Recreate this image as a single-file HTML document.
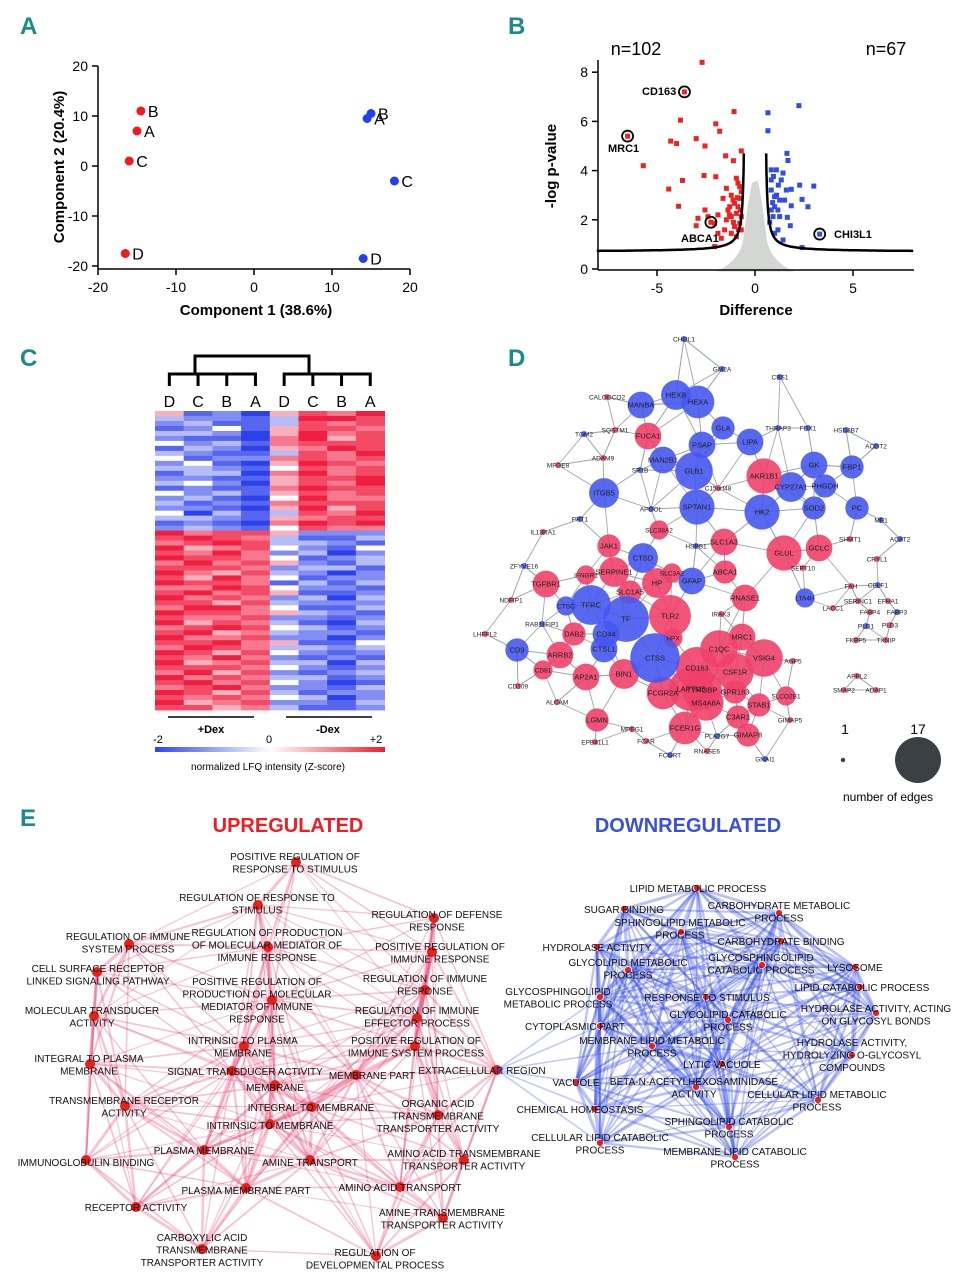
<!DOCTYPE html>
<html><head><meta charset="utf-8">
<style>
html,body{margin:0;padding:0;background:#fff;}
svg{display:block;font-family:"Liberation Sans",sans-serif;}
</style></head>
<body>
<svg id="fig" width="969" height="1280" viewBox="0 0 969 1280" xmlns="http://www.w3.org/2000/svg">
<g fill="#1a8a8a" font-weight="bold" font-size="24" font-family="Liberation Sans Narrow, Liberation Sans, sans-serif">
<text x="20" y="34">A</text>
<text x="508" y="34">B</text>
<text x="20" y="366">C</text>
<text x="508" y="366">D</text>
<text x="20" y="826">E</text>
</g>
<g id="pA"></g>
<g id="pB"></g>
<g id="pC"></g>
<g id="pD"></g>
<g id="pE"></g>
</svg>
<script>
const NS="http://www.w3.org/2000/svg";
function mk(p,t,a,txt){const e=document.createElementNS(NS,t);for(const k in a)e.setAttribute(k,a[k]);if(txt!==undefined)e.textContent=txt;p.appendChild(e);return e;}

// ---------- Panel A data ----------
const pcaLabels=["B","A","C","D","B","A","C","D"];
const pcaX=[-14.5,-15,-16,-16.5,15,14.5,18,14];
const pcaY=[11,7,1,-17.5,10.5,9.5,-3,-18.5];
const pcaGroup=["dex","dex","dex","dex","ctrl","ctrl","ctrl","ctrl"];
const pcaTicks=[-20,-10,0,10,20];

// ---------- Panel B data ----------
const upX=[-2.7,-3.6,-1.07,-3.8,-2.0,-1.8,-6.5,-3.0,-4.3,-4.0,-2.55,-0.7,-1.5,-5.7,-1.1,-2.6,-2.0,-3.7,-4.4,-0.95,-0.87,-1.46,-0.70,-1.21,-0.78,-1.63,-1.04,-3.9,-2.55,-1.38,-0.87,-1.21,-0.70,-1.89,-2.91,-2.06,-3.0,-1.04,-2.25,-1.55,-0.95,-1.72,-2.06,-0.78,-1.12,-1.29,-0.95,-1.46,-0.78,-1.21,-0.70,-1.89,-2.4,-0.9,-1.3,-0.75,-1.1,-0.85];
const upY=[8.4,7.2,6.4,6.05,5.9,5.6,5.4,5.3,5.2,5.1,5.0,4.8,4.6,4.2,4.4,3.8,3.75,3.6,3.25,3.69,3.49,3.28,3.14,3.0,2.87,2.87,2.67,2.55,2.4,2.4,2.53,2.13,2.13,2.2,2.06,1.86,1.76,1.72,1.9,1.59,1.31,1.25,0.91,3.35,2.8,2.53,2.26,2.0,1.86,1.45,1.59,1.45,2.13,2.9,2.2,2.4,1.9,1.6];
const downX=[2.24,0.66,0.66,1.63,1.68,0.83,1.09,1.43,0.94,1.19,2.28,3.0,1.6,1.85,0.83,1.0,2.4,1.26,1.85,2.7,0.83,1.17,0.92,1.65,1.8,1.17,3.3,1.0,1.43,2.4,0.83,1.34,1.0,1.26,1.51,0.9,1.1,0.75];
const downY=[6.64,6.35,5.62,4.7,4.41,4.03,4.03,3.9,3.76,3.41,3.41,3.37,3.21,3.24,3.21,2.94,2.83,2.8,2.57,2.53,2.4,2.4,2.13,2.1,1.76,1.59,1.42,1.45,1.18,0.87,3.62,3.62,2.53,2.13,2.8,2.7,3.0,1.9];
const labeledGenes=["CD163","MRC1","ABCA1","CHI3L1"];
const labeledX=[-3.6,-6.5,-2.25,3.3];
const labeledY=[7.2,5.4,1.9,1.42];
const bXTicks=[-5,0,5];
const bYTicks=[0,2,4,6,8];

// ---------- Panel C data (digit 0..8 => z = d/2-2) ----------
const hmCols=["D","C","B","A","D","C","B","A"];
const hmRows=[
"51205768","32213887","23113767","12415776","33205867","21106857","42316777","13205687","32113768","41226767","24105876","33214767",
"13306867","22115778","34205768","12116877","42315767","23104866","31216777","22105857","40313768","33215677","12106878","23214766",
"86775222","78763113","67873321","85674214","76862302","87764123","68675213","77762331","86573202","75864122","87761313","66874221",
"78675112","86762303","77573222","68864113","87765321","76672212","85763103","67874312","78563221","86672202","77865114","68763323",
"87574212","76862121","85673303","77764212","68572123","86763312","78674201","67862213","87573122","76764302","85672213","77563112"];

// ---------- Panel D data ----------
const geneNames=["CHI3L1","GM2A","CBS1","HEXB","HEXA","MANBA","GLA","LIPA","PSAP","THRAP3","FDX1","HSD3B7","ACOT2","TGM2","MAN2B1","GLB1","GK","FBP1","CYP27A1","PHGDH","ITGB5","SPTAN1","HK2","SOD2","PC","SP1B","APOOL","ME1","ACAT2","PRT1","HSPB1","CTSD","GFAP","ZFYVE16","CTSC","TFRC","TF","CD44","CTSL1","CD9","CTSS","LTA4H","RAB11FIP1","PLA2G7","CELF1","PLD1","FABP3",
"FUCA1","SQSTM1","ADAM9","MFGE8","CALOOCO2","AKR1B1","C15orf48","SLC38A2","IL13RA1","JAK1","SLC1A3","GLUL","GCLC","SHMT1","CRYL1","IFNGR1","SERPINE1","SLC3A2","HP","ABCA1","SEPT10","TGFBR1","SLC1A5","RNASE1","NDFIP1","FAH","SERINC1","EFHA1","LACC1","FABP4","IRAK3","TLR2","DAB2","LHFPL2","PLD3","HPX","MRC1","C1QC","ARRB2","VSIG4","CSF1R","CD81","BIN1","AP2A1","CD163","FCGR2A","LAPTM5","TYROBP","MS4A6A","GPR183","FKBP5","TXNIP","CD109","AGP5","SLCO2B1","STAB1","APPL2","SMAP2","ADAP1","ALCAM","C3AR1","FCER1G","GIMAP5","LGMN","MPEG1","GIMAP8","EPB41L1","FCAR","RNASE6","FCGRT","GNAI1"];
const geneEdges=[1,1,1,5,6,4,3,4,4,1,1,1,1,1,4,8,4,3,5,3,5,7,7,3,3,1,1,1,1,1,1,5,4,1,2,9,12,4,4,3,14,2,1,1,1,1,1,
4,1,1,1,1,7,1,2,1,3,4,7,4,1,1,2,5,2,5,3,1,4,3,4,1,1,1,1,1,1,1,10,3,1,1,2,4,8,4,8,8,2,5,4,10,6,11,9,7,3,1,1,1,1,2,3,1,1,1,1,3,6,1,3,1,3,1,1,1,1,1];
const geneUp=[0,0,0,0,0,0,0,0,0,0,0,0,0,0,0,0,0,0,0,0,0,0,0,0,0,0,0,0,0,0,0,0,0,0,0,0,0,0,0,0,0,0,0,0,0,0,0,
1,1,1,1,1,1,1,1,1,1,1,1,1,1,1,1,1,1,1,1,1,1,1,1,1,1,1,1,1,1,1,1,1,1,1,1,1,1,1,1,1,1,1,1,1,1,1,1,1,1,1,1,1,1,1,1,1,1,1,1,1,1,1,1,1,1,1,1,1];
const gx=[684,722,780,676,698,641,723,750,702,778,808,846,876,584,663,694,814,852,791,825,604,697,762,814,857,640,651,881,900,580,696,643,692,524,566,591,626,606,604,517,655,805,542,717,878,866,897,
648,615,603,558,607,764,718,659,543,609,724,784,819,850,877,586,614,672,657,725,803,546,630,745,511,851,858,888,833,870,721,670,574,485,890,673,742,719,560,764,735,543,624,586,697,663,691,702,706,735,856,886,518,793,786,759,857,844,876,557,738,685,790,597,632,748,595,646,707,670,765];
const gy=[339,369,377,395,402,405,428,442,445,428,428,430,446,434,460,471,465,467,487,486,493,507,512,508,508,470,509,520,539,519,546,558,581,566,606,605,619,634,649,650,658,598,624,736,585,626,612,
436,430,458,465,397,476,488,530,532,546,542,553,548,539,559,575,572,573,583,572,568,584,592,598,600,586,601,601,608,612,614,616,634,634,625,638,637,649,655,658,672,670,674,677,668,693,689,690,703,692,640,640,686,661,696,705,676,690,690,702,717,728,720,720,729,735,742,741,751,755,759];

// ---------- Panel E data ----------
const upTerms=["POSITIVE REGULATION OF|RESPONSE TO STIMULUS","REGULATION OF RESPONSE TO|STIMULUS","REGULATION OF DEFENSE|RESPONSE","REGULATION OF IMMUNE|SYSTEM PROCESS","REGULATION OF PRODUCTION|OF MOLECULAR MEDIATOR OF|IMMUNE RESPONSE","POSITIVE REGULATION OF|IMMUNE RESPONSE","CELL SURFACE RECEPTOR|LINKED SIGNALING PATHWAY","POSITIVE REGULATION OF|PRODUCTION OF MOLECULAR|MEDIATOR OF IMMUNE|RESPONSE","REGULATION OF IMMUNE|RESPONSE","MOLECULAR TRANSDUCER|ACTIVITY","REGULATION OF IMMUNE|EFFECTOR PROCESS","INTRINSIC TO PLASMA|MEMBRANE","POSITIVE REGULATION OF|IMMUNE SYSTEM PROCESS","INTEGRAL TO PLASMA|MEMBRANE","SIGNAL TRANSDUCER ACTIVITY","MEMBRANE PART","MEMBRANE","TRANSMEMBRANE RECEPTOR|ACTIVITY","INTEGRAL TO MEMBRANE","ORGANIC ACID|TRANSMEMBRANE|TRANSPORTER ACTIVITY","INTRINSIC TO MEMBRANE","IMMUNOGLOBULIN BINDING","PLASMA MEMBRANE","AMINE TRANSPORT","AMINO ACID TRANSMEMBRANE|TRANSPORTER ACTIVITY","PLASMA MEMBRANE PART","AMINO ACID TRANSPORT","RECEPTOR ACTIVITY","AMINE TRANSMEMBRANE|TRANSPORTER ACTIVITY","CARBOXYLIC ACID|TRANSMEMBRANE|TRANSPORTER ACTIVITY","REGULATION OF|DEVELOPMENTAL PROCESS","EXTRACELLULAR REGION"];
const upNX=[296,258,434,129,268,432,97,272,425,94,417,244,415,90,232,356,275,125,312,438,270,86,204,310,464,246,400,136,443,202,376,497];
const upNY=[862,905,918,944,947,952,972,1000,990,1016,1018,1046,1046,1064,1071,1075,1085,1106,1107,1115,1124,1160,1150,1160,1160,1188,1187,1207,1218,1249,1256,1070];
const upTX=[295,257,437,128,267,440,98,257,425,92,417,243,416,89,245,372,275,124,311,438,270,86,204,310,464,246,400,136,442,202,375,482];
const upTY=[856,897,914,936,932,946,968,981,978,1010,1010,1040,1040,1058,1071,1075,1087,1100,1107,1103,1125,1162,1150,1162,1153,1190,1187,1207,1212,1237,1252,1070];
const downTerms=["LIPID METABOLIC PROCESS","CARBOHYDRATE METABOLIC|PROCESS","SUGAR BINDING","SPHINGOLIPID METABOLIC|PROCESS","CARBOHYDRATE BINDING","HYDROLASE ACTIVITY","GLYCOLIPID METABOLIC|PROCESS","GLYCOSPHINGOLIPID|CATABOLIC PROCESS","LYSOSOME","GLYCOSPHINGOLIPID|METABOLIC PROCESS","LIPID CATABOLIC PROCESS","RESPONSE TO STIMULUS","GLYCOLIPID CATABOLIC|PROCESS","HYDROLASE ACTIVITY, ACTING|ON GLYCOSYL BONDS","CYTOPLASMIC PART","MEMBRANE LIPID METABOLIC|PROCESS","HYDROLASE ACTIVITY,|HYDROLYZING O-GLYCOSYL|COMPOUNDS","LYTIC VACUOLE","VACUOLE","BETA-N-ACETYLHEXOSAMINIDASE|ACTIVITY","CELLULAR LIPID METABOLIC|PROCESS","CHEMICAL HOMEOSTASIS","SPHINGOLIPID CATABOLIC|PROCESS","CELLULAR LIPID CATABOLIC|PROCESS","MEMBRANE LIPID CATABOLIC|PROCESS"];
const dnNX=[697,779,624,681,781,597,628,762,855,600,860,706,728,876,600,652,852,722,576,696,818,595,729,600,735];
const dnNY=[888,913,909,932,941,947,970,965,967,997,987,997,1020,1013,1026,1046,1055,1064,1082,1087,1100,1109,1127,1143,1157];
const dnTX=[698,779,624,680,781,597,628,761,855,558,862,707,728,876,575,652,852,722,576,694,817,580,729,600,735];
const dnTY=[888,905,909,922,941,947,962,957,967,991,987,997,1014,1008,1026,1040,1042,1064,1082,1081,1094,1109,1121,1137,1151];

// ================= Draw A =================
(function(){
 const g=document.getElementById('pA');
 const sx=v=>254+v*7.8, sy=v=>166-v*5.0;
 mk(g,'line',{x1:98,y1:66,x2:98,y2:269,stroke:'#000','stroke-width':1.5,});
 mk(g,'line',{x1:98,y1:269,x2:410,y2:269,stroke:'#000','stroke-width':1.5,});
 pcaTicks.forEach(t=>{
  mk(g,'line',{x1:92,y1:sy(t),x2:98,y2:sy(t),stroke:'#000','stroke-width':1.5});
  const a=mk(g,'text',{x:88,y:sy(t)+5,'text-anchor':'end','font-size':14},String(t));
  
  mk(g,'line',{x1:sx(t),y1:269,x2:sx(t),y2:275,stroke:'#000','stroke-width':1.5});
  const b=mk(g,'text',{x:sx(t),y:292,'text-anchor':'middle','font-size':14},String(t));
  
 });
 mk(g,'text',{x:256,y:315,'text-anchor':'middle','font-size':15,'font-weight':'bold',},'Component 1 (38.6%)');
 mk(g,'text',{x:64,y:167,'text-anchor':'middle','font-size':15,'font-weight':'bold',transform:'rotate(-90 64 167)',},'Component 2 (20.4%)');
 pcaX.forEach((v,i)=>{
  const c=mk(g,'circle',{cx:sx(v),cy:sy(pcaY[i]),r:4.5,fill:pcaGroup[i]==='dex'?'#ee1c1c':'#2340f0'});
  
  mk(g,'text',{x:sx(v)+7,y:sy(pcaY[i])+6,'font-size':16},pcaLabels[i]);
 });
})();

// ================= Draw B =================
(function(){
 const g=document.getElementById('pB');
 const sx=v=>755+v*19.6, sy=v=>269-v*24.6;
 mk(g,'path',{d:`M${sx(-2.0)},${sy(-0.1)} Q${sx(-0.8)},${sy(0.3)} ${sx(-0.6)},${sy(1.2)} Q${sx(-0.4)},${sy(2.6)} ${sx(-0.15)},${sy(3.5)} L${sx(0.15)},${sy(3.6)} Q${sx(0.4)},${sy(2.6)} ${sx(0.6)},${sy(1.2)} Q${sx(0.8)},${sy(0.3)} ${sx(2.0)},${sy(-0.1)} Z`,fill:'#d3d6d3',});
 upX.forEach((v,i)=>{const r=mk(g,'rect',{x:sx(v)-2.5,y:sy(upY[i])-2.5,width:5,height:5,fill:'#ee2222'});});
 downX.forEach((v,i)=>{const r=mk(g,'rect',{x:sx(v)-2.5,y:sy(downY[i])-2.5,width:5,height:5,fill:'#2e4ee6'});});
 [-1,1].forEach(s=>{let d='';for(let k=0;k<=120;k++){const ax=0.57+Math.pow(k/120,2)*7.5;const y=Math.min(0.7+0.28/(ax-0.5),8.6);d+=(k?'L':'M')+sx(s*ax).toFixed(1)+','+sy(y).toFixed(1);}
  mk(g,'path',{d:d,fill:'none',stroke:'#000','stroke-width':2.5,});});
 labeledGenes.forEach((n,i)=>{mk(g,'circle',{cx:sx(labeledX[i]),cy:sy(labeledY[i]),r:5.5,fill:'none',stroke:'#000','stroke-width':1.8,});});
 mk(g,'text',{x:642,y:95,'font-size':11,'font-weight':'bold'},'CD163');
 mk(g,'text',{x:608,y:152,'font-size':11,'font-weight':'bold'},'MRC1');
 mk(g,'text',{x:681,y:242,'font-size':11,'font-weight':'bold'},'ABCA1');
 mk(g,'text',{x:834,y:238,'font-size':11,'font-weight':'bold'},'CHI3L1');
 mk(g,'line',{x1:598,y1:60,x2:598,y2:270,stroke:'#000','stroke-width':1.5,});
 mk(g,'line',{x1:598,y1:270,x2:914,y2:270,stroke:'#000','stroke-width':1.5,});
 bYTicks.forEach(t=>{mk(g,'line',{x1:592,y1:sy(t),x2:598,y2:sy(t),stroke:'#000','stroke-width':1.5});const a=mk(g,'text',{x:588,y:sy(t)+5,'text-anchor':'end','font-size':14},String(t));});
 bXTicks.forEach(t=>{mk(g,'line',{x1:sx(t),y1:270,x2:sx(t),y2:276,stroke:'#000','stroke-width':1.5});const a=mk(g,'text',{x:sx(t),y:293,'text-anchor':'middle','font-size':14},String(t));});
 mk(g,'text',{x:756,y:315,'text-anchor':'middle','font-size':15,'font-weight':'bold',},'Difference');
 mk(g,'text',{x:556,y:166,'text-anchor':'middle','font-size':15,'font-weight':'bold',transform:'rotate(-90 556 166)',},'-log p-value');
 mk(g,'text',{x:636,y:55,'text-anchor':'middle','font-size':18,},'n=102');
 mk(g,'text',{x:886,y:55,'text-anchor':'middle','font-size':18,},'n=67');
})();

// ================= Draw C =================
(function(){
 const g=document.getElementById('pC');
 const x0=155,cw=28.7,y0=411,h=299,rh=h/hmRows.length;
 function col(z){const t=Math.pow(Math.min(Math.abs(z)/2,1),0.75);
  if(z<0)return `rgb(${Math.round(255-t*210)},${Math.round(255-t*190)},${Math.round(255-t*20)})`;
  return `rgb(${Math.round(255-t*15)},${Math.round(255-t*225)},${Math.round(255-t*190)})`;}
 hmRows.forEach((row,r)=>{for(let c=0;c<8;c++){const z=(+row[c])/2-2;
  const e=mk(g,'rect',{x:x0+c*cw,y:y0+r*rh,width:cw+0.4,height:rh+0.4,fill:col(z)});
  }});
 hmCols.forEach((l,i)=>{const t=mk(g,'text',{x:x0+cw*(i+0.5),y:407,'text-anchor':'middle','font-size':16},l);});
 const dg=mk(g,'g',{stroke:'#000','stroke-width':3,fill:'none',});
 const cxs=hmCols.map((_,i)=>x0+cw*(i+0.5));
 mk(dg,'path',{d:`M${cxs[0]},386V374H${cxs[3]}V386M${cxs[1]},386V374M${cxs[2]},386V374M195,374V356H309V374M${cxs[4]},386V374H${cxs[7]}V386M${cxs[5]},386V374M${cxs[6]},386V374`});
 mk(g,'line',{x1:168,y1:717,x2:254,y2:717,stroke:'#000','stroke-width':1.5});
 mk(g,'line',{x1:286,y1:717,x2:372,y2:717,stroke:'#000','stroke-width':1.5});
 mk(g,'text',{x:211,y:733,'text-anchor':'middle','font-size':11,'font-weight':'bold',},'+Dex');
 mk(g,'text',{x:328,y:733,'text-anchor':'middle','font-size':11,'font-weight':'bold',},'-Dex');
 const df=mk(g,'defs',{});const lg=mk(df,'linearGradient',{id:'cb'});
 mk(lg,'stop',{offset:'0','stop-color':'#2d45f0'});mk(lg,'stop',{offset:'0.5','stop-color':'#ffffff'});mk(lg,'stop',{offset:'1','stop-color':'#f01e2e'});
 mk(g,'rect',{x:155,y:747,width:230,height:5,fill:'url(#cb)',});
 mk(g,'text',{x:158,y:743,'text-anchor':'middle','font-size':11},'-2');
 mk(g,'text',{x:269,y:743,'text-anchor':'middle','font-size':11},'0');
 mk(g,'text',{x:376,y:743,'text-anchor':'middle','font-size':11},'+2');
 mk(g,'text',{x:268,y:770,'text-anchor':'middle','font-size':10,},'normalized LFQ intensity (Z-score)');
})();

// ================= Draw D =================
(function(){
 const g=document.getElementById('pD');
 const eg=mk(g,'g',{stroke:'#8a9a98','stroke-width':0.9,opacity:0.85,});
 const n=geneNames.length;
 for(let i=0;i<n;i++){
  const k=Math.max(1,Math.min(geneEdges[i]+1,7));
  const ds=[];for(let j=0;j<n;j++)if(j!==i){const d=Math.hypot(gx[i]-gx[j],gy[i]-gy[j]);ds.push([d,j]);}
  ds.sort((a,b)=>a[0]-b[0]);
  for(let q=0;q<k;q++){const j=ds[q][1];if(ds[q][0]<130)mk(eg,'line',{x1:gx[i],y1:gy[i],x2:gx[j],y2:gy[j]});}
 }
 const order=[...Array(n).keys()].sort((a,b)=>geneEdges[a]-geneEdges[b]);
 order.forEach(i=>{
  const r=3+Math.sqrt(geneEdges[i])*6.5-6.5*(geneEdges[i]===1?1:0.4);
  const c=mk(g,'circle',{cx:gx[i],cy:gy[i],r:Math.max(3,r),fill:geneUp[i]?'#f0406a':'#4658f0','fill-opacity':0.9});
  
 });
 geneNames.forEach((nm,i)=>{const t=mk(g,'text',{x:gx[i],y:gy[i]+2.5,'text-anchor':'middle','font-size':geneEdges[i]>2?7.5:6.5,fill:'#222'},nm);
  });
 mk(g,'circle',{cx:843,cy:760,r:2.2,fill:'#3b4044',});
 mk(g,'circle',{cx:918,cy:760,r:23,fill:'#3b4044',});
 mk(g,'text',{x:845,y:734,'text-anchor':'middle','font-size':14},'1');
 mk(g,'text',{x:918,y:734,'text-anchor':'middle','font-size':14},'17');
 mk(g,'text',{x:888,y:801,'text-anchor':'middle','font-size':12,},'number of edges');
})();

// ================= Draw E =================
(function(){
 const g=document.getElementById('pE');
 mk(g,'text',{x:288,y:832,'text-anchor':'middle','font-size':20,'font-weight':'bold',fill:'#ee1c24',},'UPREGULATED');
 mk(g,'text',{x:688,y:832,'text-anchor':'middle','font-size':20,'font-weight':'bold',fill:'#3a50d8',},'DOWNREGULATED');
 function net(NX,NY,TX,TY,terms,color,maxd,nodeFill,op){
  const eg=mk(g,'g',{stroke:color,'stroke-opacity':op,});
  for(let i=0;i<NX.length;i++)for(let j=i+1;j<NX.length;j++){const d=Math.hypot(NX[i]-NX[j],NY[i]-NY[j]);if(d<maxd)mk(eg,'line',{x1:NX[i],y1:NY[i],x2:NX[j],y2:NY[j],'stroke-width':(1+ (maxd-d)/maxd*3).toFixed(2)});}
  NX.forEach((x,i)=>{const c=mk(g,'circle',{cx:x,cy:NY[i],r:nodeFill==='big'?5:3.5,fill:'#e8201a',stroke:nodeFill==='big'?'none':'#fff','stroke-width':0.8});
   });
  terms.forEach((t,i)=>{const lines=t.split('|');const tx=mk(g,'text',{x:TX[i],y:TY[i]+4,'text-anchor':'middle','font-size':10,fill:'#111'});
   
   lines.forEach((l,k)=>mk(tx,'tspan',{x:TX[i],dy:k?12.5:0},l));});
 }
 net(upNX,upNY,upTX,upTY,upTerms,'#e8386a',200,'big',0.3);
 net(dnNX,dnNY,dnTX,dnTY,downTerms,'#3048e0',240,'small',0.33);
 const bg=mk(g,'g',{stroke:'#3048e0','stroke-opacity':0.3,});
 [18,14,9,21,23,15].forEach(j=>mk(bg,'line',{x1:497,y1:1070,x2:dnNX[j],y2:dnNY[j],'stroke-width':1.5}));
})();
</script>
</body></html>
